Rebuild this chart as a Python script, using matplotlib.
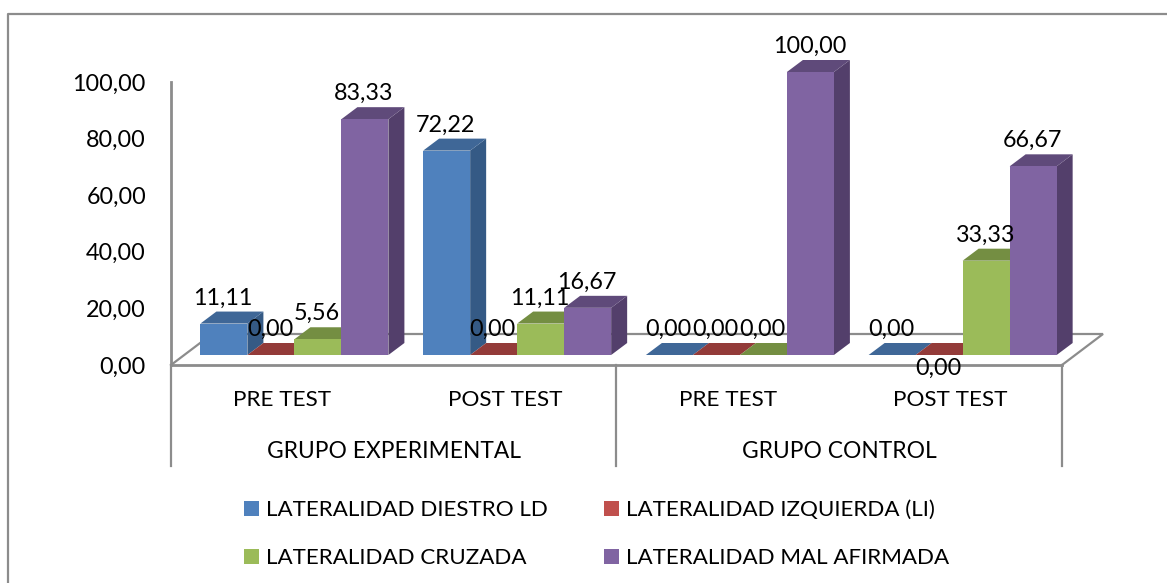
import matplotlib
matplotlib.use("Agg")
import matplotlib.pyplot as plt
from matplotlib.patches import Polygon, Rectangle
from matplotlib.lines import Line2D

plt.rcParams['font.family'] = ['Lato', 'DejaVu Sans']

subgroups = ["PRE TEST", "POST TEST", "PRE TEST", "POST TEST"]
groups = ["GRUPO EXPERIMENTAL", "GRUPO CONTROL"]
series_names = ["LATERALIDAD DIESTRO LD", "LATERALIDAD IZQUIERDA (LI)",
                "LATERALIDAD CRUZADA", "LATERALIDAD MAL AFIRMADA"]
diestro = [11.11, 72.22, 0.00, 0.00]
izquierda = [0.00, 0.00, 0.00, 0.00]
cruzada = [5.56, 11.11, 0.00, 33.33]
mal_afirmada = [83.33, 16.67, 100.00, 66.67]
series = [diestro, izquierda, cruzada, mal_afirmada]
yticks = [0, 20, 40, 60, 80, 100]

front = ["#4F81BD", "#C0504D", "#9BBB59", "#8064A2"]
top = ["#3F6797", "#933B39", "#748E42", "#5F4A7A"]
side = ["#355A85", "#7D3230", "#627A37", "#533F6B"]
GRID = "#8C8C8C"

W, H = 1167, 583
fig = plt.figure(figsize=(W / 100, H / 100), dpi=100, facecolor="white")
L, R, T, B = 171, 1062, 82, 365
ax = fig.add_axes([L / W, 1 - B / H, (R - L) / W, (B - T) / H])
ax.set_xlim(0, 4)
ax.set_ylim(0, 100)
ax.set_facecolor("none")
px_x = 4 / (R - L)
px_y = 100 / (B - T)

for s in ("top", "right"):
    ax.spines[s].set_visible(False)
for s in ("left", "bottom"):
    ax.spines[s].set_color(GRID)
    ax.spines[s].set_linewidth(2)
ax.set_xticks([])
ax.set_yticks(yticks)
ax.set_yticklabels([f"{v:.2f}".replace(".", ",") for v in yticks], fontsize=16.8)
ax.tick_params(axis="y", length=0, pad=18)

# floor of the 3-D box
fdx, fdy = 41 * px_x, 31 * px_y
ax.plot([0, fdx, 4 + fdx, 4], [0, fdy, fdy, 0], color=GRID, lw=1.6, clip_on=False, zorder=1,
        solid_joinstyle="miter")

# bars
bw = 47 * px_x
x0 = 29.4 * px_x
base = 10 * px_y
ddx, ddy = 16 * px_x, 12 * px_y
z = 2
label_items = []
for c in range(4):
    for i, vals in enumerate(series):
        v = vals[c]
        xl = c + x0 + i * bw
        xr = xl + bw
        yb, yt = base, base + v
        ax.add_patch(Polygon([(xr, yb), (xr + ddx, yb + ddy), (xr + ddx, yt + ddy), (xr, yt)],
                             fc=side[i], ec="none", zorder=z, clip_on=False))
        ax.add_patch(Polygon([(xl, yt), (xl + ddx, yt + ddy), (xr + ddx, yt + ddy), (xr, yt)],
                             fc=top[i], ec="none", zorder=z, clip_on=False))
        if v > 0:
            ax.bar(xl, v, bw, bottom=yb, align="edge", color=front[i], zorder=z, clip_on=False)
        z += 1
        label_items.append((xl + bw / 2, yt, v, c, i))

for xc, yt, v, c, i in label_items:
    below = (c == 3 and i == 1)
    ax.annotate(f"{v:.2f}".replace(".", ","), (xc, yt),
                xytext=(-1, -13 if below else 25.5), textcoords="offset pixels",
                ha="center", va="center", fontsize=16.8, color="black", zorder=100,
                annotation_clip=False)

# category axis
y_sub = (B - 400) * px_y
y_grp = (B - 451) * px_y
y_end = (B - 466) * px_y
for k, name in enumerate(subgroups):
    ax.text(k + 0.5, y_sub, name, ha="center", va="center", fontsize=16.2, clip_on=False)
for k, name in enumerate(groups):
    ax.text(2 * k + 1, y_grp, name, ha="center", va="center", fontsize=16.4, clip_on=False)
for xv in (0, 2, 4):
    ax.plot([xv - 0.002, xv - 0.002], [0, y_end], color=GRID, lw=1.6, clip_on=False, zorder=1)

# legend
handles = [Rectangle((0, 0), 1, 1, fc=c, ec="none") for c in front]
order = [0, 2, 1, 3]
fig.legend([handles[i] for i in order], [series_names[i] for i in order], ncol=2,
           loc="center", bbox_to_anchor=(596.5 / W, 1 - 534 / H), frameon=False, fontsize=16.1,
           handlelength=0.67, handleheight=0.67, handletextpad=0.31,
           columnspacing=2.5, labelspacing=1.25)

# chart frame: open towards the right and bottom picture edges
fig.add_artist(Line2D([8 / W, 8 / W, 1], [0, 1 - 14 / H, 1 - 14 / H], color=GRID, lw=1.6))

fig.savefig("out.png", dpi=100)
